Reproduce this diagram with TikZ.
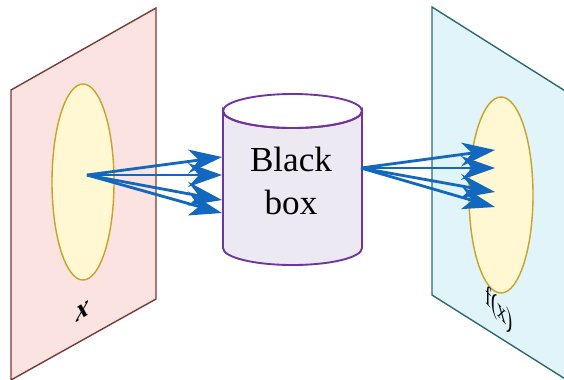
\documentclass[tikz,border=0pt]{standalone}
\usepackage{fontspec}
\setmainfont{Liberation Serif}
\definecolor{planeL}{HTML}{FBE3E1}
\definecolor{edgeL}{HTML}{7A3A36}
\definecolor{planeR}{HTML}{E1F4FA}
\definecolor{edgeR}{HTML}{2E6A70}
\definecolor{setin}{HTML}{FFF8D2}
\definecolor{setedge}{HTML}{C9A227}
\definecolor{boxfill}{HTML}{ECE9F2}
\definecolor{boxedge}{HTML}{7232A2}
\definecolor{arrblue}{HTML}{1268BE}

\begin{document}
\begin{tikzpicture}[x=0.03cm,y=-0.03cm,
  arr/.style={line width=2.4pt,draw=arrblue},
  set/.style={fill=setin,draw=setedge,line width=1.2pt}]
\clip (0,0) rectangle (564,379);
% the two planes
\filldraw[fill=planeL,draw=edgeL,line width=1.2pt] (11,90) -- (156,8) -- (156,299) -- (11,380) -- cycle;
\filldraw[fill=planeR,draw=edgeR,line width=1.2pt] (432,7) -- (578,99) -- (578,387) -- (432,295) -- cycle;
\filldraw[set] (83,182) ellipse [x radius=31,y radius=98];
\filldraw[set] (501,195) ellipse [x radius=32,y radius=98];
\node[font=\itshape\bfseries\fontsize{27}{27}\selectfont,xscale=0.8,yslant=0.5] (xlab) at (83,311) {x};
\node[font=\fontsize{24}{24}\selectfont,xscale=0.65,yslant=-0.7] (flab) at (499,310) {f(x)};
% black box
\filldraw[fill=boxfill,draw=boxedge,line width=1.6pt] (223,111) -- (223,248)
  arc[start angle=180,end angle=0,x radius=69.5,y radius=17] -- (362,111)
  arc[start angle=0,end angle=180,x radius=69.5,y radius=17] -- cycle;
\draw[boxedge,line width=1.6pt] (292.5,111) ellipse [x radius=69.5,y radius=17];
\node[align=center,font=\fontsize{30}{36}\selectfont] (bb) at (291,181) {Black\\box};
% arrows
\coordinate (src) at (87,175);
\coordinate (out) at (361,168);
\foreach \y [count=\i] in {157,175,200,213} {
  \coordinate (in\i) at (222,\y);
  \pgfmathsetmacro\b{\y-34*(\y-175)/135}
  \pgfmathsetmacro\n{\y-23*(\y-175)/135}
  \draw[arr] (src) -- (199,\n);
  \fill[arrblue] (in\i) -- (188,\b-12) -- (199,\n) -- (188,\b+12) -- cycle;
}
\foreach \y [count=\i] in {150,168,192,207} {
  \coordinate (fx\i) at (495,\y);
  \pgfmathsetmacro\b{\y-34*(\y-168)/134}
  \pgfmathsetmacro\n{\y-23*(\y-168)/134}
  \draw[arr] (out) -- (472,\n);
  \fill[arrblue] (fx\i) -- (461,\b-12) -- (472,\n) -- (461,\b+12) -- cycle;
}
\end{tikzpicture}
\end{document}
